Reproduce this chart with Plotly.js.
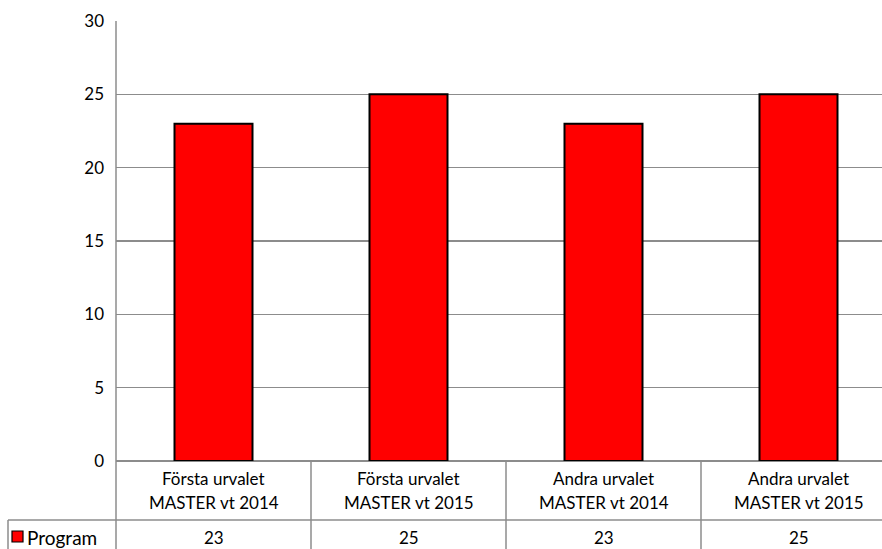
<!DOCTYPE html>
<html>
<head>
<meta charset="utf-8">
<script src="https://cdn.plot.ly/plotly-3.0.1.min.js"></script>
<style>
html,body{margin:0;padding:0;overflow:hidden;background:#fff;width:882px;height:549px;}
#chart{width:900px;height:549px;}
</style>
</head>
<body>
<div id="chart"></div>
<script>
const categories = ["Första urvalet MASTER vt 2014", "Första urvalet MASTER vt 2015", "Andra urvalet MASTER vt 2014", "Andra urvalet MASTER vt 2015"];
const seriesName = "Program";
const values = [23, 25, 23, 25];
const yTicks = [0, 5, 10, 15, 20, 25, 30];

const FONT = "Lato, Open Sans, sans-serif";
const FS = 17;
const GRID = "#8c8c8c";
const idx = categories.map((c, i) => i);

const plotH = 440;
const py = px => -px / plotH; // pixels below the axis -> paper y

const shapes = [];
shapes.push({type:'line', xref:'paper', yref:'paper', x0:0, x1:0, y0:1, y1:py(100), line:{color:GRID, width:1.5}});
shapes.push({type:'line', xref:'paper', yref:'paper', x0:-108/780, x1:1, y0:py(59), y1:py(59), line:{color:GRID, width:1.5}});
shapes.push({type:'line', xref:'paper', yref:'paper', x0:-108/780, x1:-108/780, y0:py(59), y1:py(100), line:{color:GRID, width:1.5}});
shapes.push({type:'line', xref:'paper', yref:'paper', x0:-108/780, x1:1, y0:py(96), y1:py(96), line:{color:GRID, width:1.5}});
for (let i = 0; i < categories.length; i++) {
  shapes.push({type:'line', xref:'x', yref:'paper', x0:i+0.5, x1:i+0.5, y0:0, y1:py(100), line:{color:GRID, width:1.5}});
}
shapes.push({type:'rect', xref:'paper', yref:'paper', x0:-104/780, x1:-93/780, y0:py(70), y1:py(81), fillcolor:'#ff0000', line:{color:'#000', width:1.2}});

const annotations = [];
categories.forEach((c, i) => {
  const k = c.indexOf(" MASTER");
  const l1 = c.slice(0, k), l2 = c.slice(k + 1);
  annotations.push({xref:'x', yref:'paper', x:i, y:py(17), text:l1, showarrow:false, yanchor:'middle', font:{family:FONT, size:FS, color:'#000'}});
  annotations.push({xref:'x', yref:'paper', x:i, y:py(41), text:l2, showarrow:false, yanchor:'middle', font:{family:FONT, size:FS, color:'#000'}});
  annotations.push({xref:'x', yref:'paper', x:i, y:py(76), text:String(values[i]), showarrow:false, yanchor:'middle', font:{family:FONT, size:FS, color:'#000'}});
});
annotations.push({xref:'paper', yref:'paper', x:-91/780, y:py(76), text:seriesName, showarrow:false, xanchor:'left', yanchor:'middle', font:{family:FONT, size:19, color:'#000'}});

const trace = {
  type:'bar', x:idx, y:values, name:seriesName, width:0.4,
  marker:{color:'#ff0000', line:{color:'#000', width:2}},
  hoverinfo:'skip'
};

const layout = {
  width:900, height:549,
  margin:{l:116, r:4, t:21, b:88},
  paper_bgcolor:'#fff', plot_bgcolor:'#fff',
  showlegend:false,
  font:{family:FONT, size:FS, color:'#000'},
  xaxis:{range:[-0.5, 3.5], showticklabels:false, showgrid:false, zeroline:false, ticks:'', showline:false, fixedrange:true},
  yaxis:{range:[0, 30], tickvals:yTicks, ticktext:yTicks.map(String), showgrid:true, gridcolor:GRID, gridwidth:1.5,
         zeroline:true, zerolinecolor:GRID, zerolinewidth:1.5, showline:false, ticks:'', ticklabelstandoff:11,
         tickfont:{family:FONT, size:FS, color:'#000'}, fixedrange:true},
  shapes:shapes, annotations:annotations
};

Plotly.newPlot('chart', [trace], layout, {displayModeBar:false, staticPlot:true});
</script>
</body>
</html>
